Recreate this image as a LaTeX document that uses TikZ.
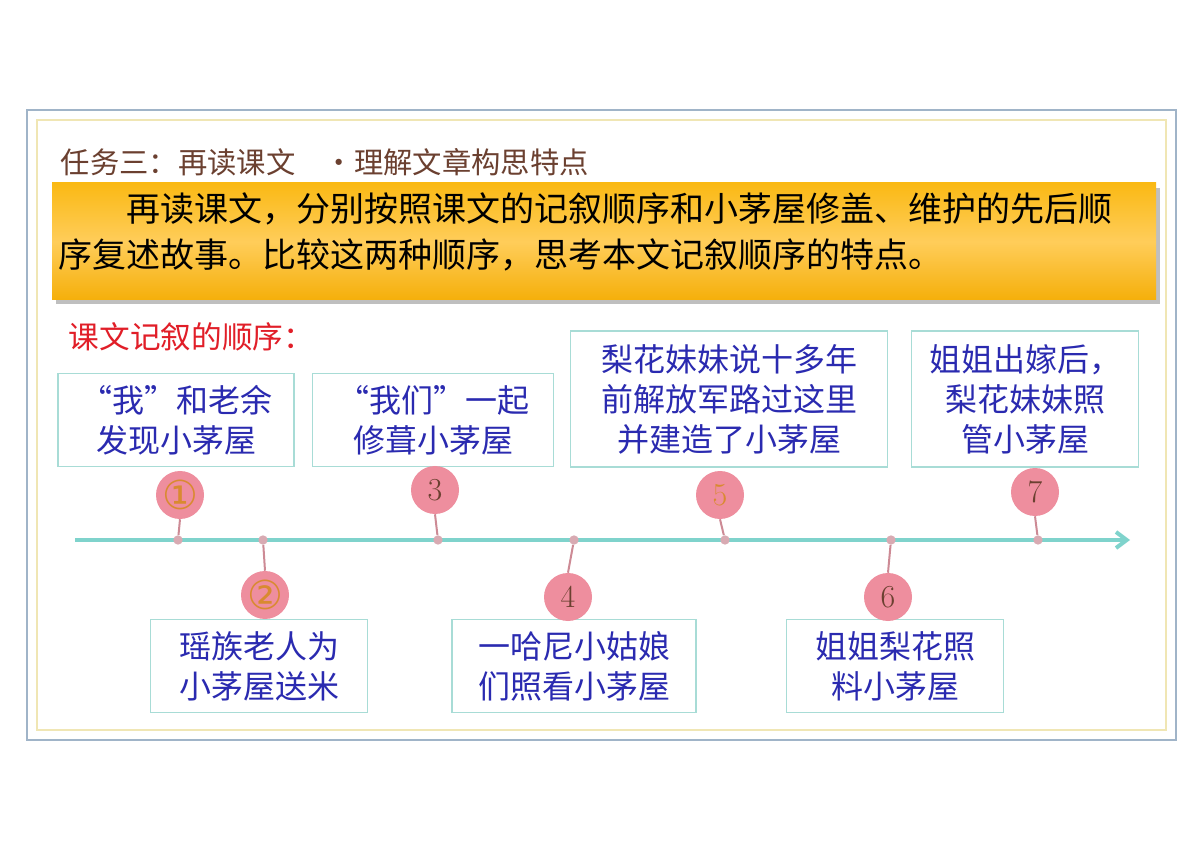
\documentclass[tikz,border=0pt]{standalone}
\usepackage{fontspec}
\newfontfamily\cjk{Noto Sans CJK SC}
\newfontfamily\dvs{DejaVu Sans}
\usetikzlibrary{arrows.meta}
\definecolor{teal1}{HTML}{7FD3CC}
\definecolor{boxb}{HTML}{A8DCD6}
\definecolor{txtb}{HTML}{2A2AB0}
\definecolor{pinkc}{HTML}{EE8E9E}
\definecolor{brownt}{HTML}{6B4030}
\definecolor{orn}{HTML}{D98A30}
\tikzset{
 evbox/.style={draw=boxb,line width=1.2pt,fill=white,align=center,text=txtb,font=\cjk\fontsize{24}{30}\selectfont,inner sep=0pt},
 ball/.style={circle,fill=pinkc,minimum size=36pt,inner sep=0pt},
 tick/.style={circle,fill=pinkc!80!black!60,minimum size=7pt,inner sep=0pt},
 stem/.style={draw=pinkc!70!gray,line width=1.5pt}
}
\begin{document}
\begin{tikzpicture}[x=0.75pt,y=-0.75pt]
\useasboundingbox (0,0) rectangle (1200,848);
\fill[white] (0,0) rectangle (1200,848);
\draw[color={rgb,255:red,160;green,180;blue,200},line width=1.2pt] (27,110) rectangle (1176,740);
\draw[color={rgb,255:red,240;green,230;blue,180},line width=1.2pt] (37,120) rectangle (1166,730);
\node[anchor=west,text=brownt,font=\cjk\fontsize{22}{22}\selectfont] (title) at (56,162) {任务三：再读课文\quad •理解文章构思特点};
\fill[black!25] (56,188) rectangle (1160,304);
\shade[top color={rgb,255:red,250;green,185;blue,20},bottom color={rgb,255:red,245;green,175;blue,10},middle color={rgb,255:red,255;green,205;blue,90}] (52,183) rectangle (1156,300);
\node[anchor=north west,align=left,font=\cjk\fontsize{25.5}{35}\selectfont,inner sep=0pt] (task) at (58,192) {\hspace*{2em}再读课文，分别按照课文的记叙顺序和小茅屋修盖、维护的先后顺\\序复述故事。比较这两种顺序，思考本文记叙顺序的特点。};
\node[anchor=west,text={rgb,255:red,225;green,30;blue,40},font=\cjk\fontsize{23}{23}\selectfont] (lab) at (64,337) {课文记叙的顺序：};
\coordinate (ls) at (75,540); \coordinate (le) at (1130,540);
\draw[teal1,line width=3pt,-{Straight Barb[length=8pt,width=12pt]}] (ls) -- (le);
\node[evbox,minimum width=177pt,minimum height=70pt] (b1) at (176,420) {“我”和老余\\发现小茅屋};
\node[evbox,minimum width=181pt,minimum height=70pt] (b3) at (433,420) {“我们”一起\\修葺小茅屋};
\node[evbox,minimum width=238pt,minimum height=102pt] (b5) at (729,399) {梨花妹妹说十多年\\前解放军路过这里\\并建造了小茅屋};
\node[evbox,minimum width=170pt,minimum height=102pt] (b7) at (1025,399) {姐姐出嫁后，\\梨花妹妹照\\管小茅屋};
\node[evbox,minimum width=163pt,minimum height=70pt] (b2) at (259,666) {瑶族老人为\\小茅屋送米};
\node[evbox,minimum width=183pt,minimum height=70pt] (b4) at (574,666) {一哈尼小姑娘\\们照看小茅屋};
\node[evbox,minimum width=163pt,minimum height=70pt] (b6) at (895,666) {姐姐梨花照\\料小茅屋};
\foreach \n/\tx/\bx/\by/\lab in {1/178/180/495/{\dvs\fontsize{30}{30}\selectfont\textcolor{orn}{①}},3/438/435/490/3,5/725/720/495/{\textcolor{orn}{5}},7/1038/1035/492/7}{
 \node[tick] (t\n) at (\tx,540) {};
 \node[ball] (c\n) at (\bx,\by) {};
 \draw[stem] (t\n) -- (c\n.south);
 \node[text=brownt,font=\fontsize{24}{24}\selectfont] (n\n) at (c\n) {\lab};
}
\foreach \n/\tx/\bx/\by/\lab in {2/263/265/595/{\dvs\fontsize{30}{30}\selectfont\textcolor{orn}{②}},4/574/568/597/4,6/891/888/597/6}{
 \node[tick] (t\n) at (\tx,540) {};
 \node[ball] (c\n) at (\bx,\by) {};
 \draw[stem] (t\n) -- (c\n.north);
 \node[text=brownt,font=\fontsize{24}{24}\selectfont] (n\n) at (c\n) {\lab};
}
\end{tikzpicture}
\end{document}
